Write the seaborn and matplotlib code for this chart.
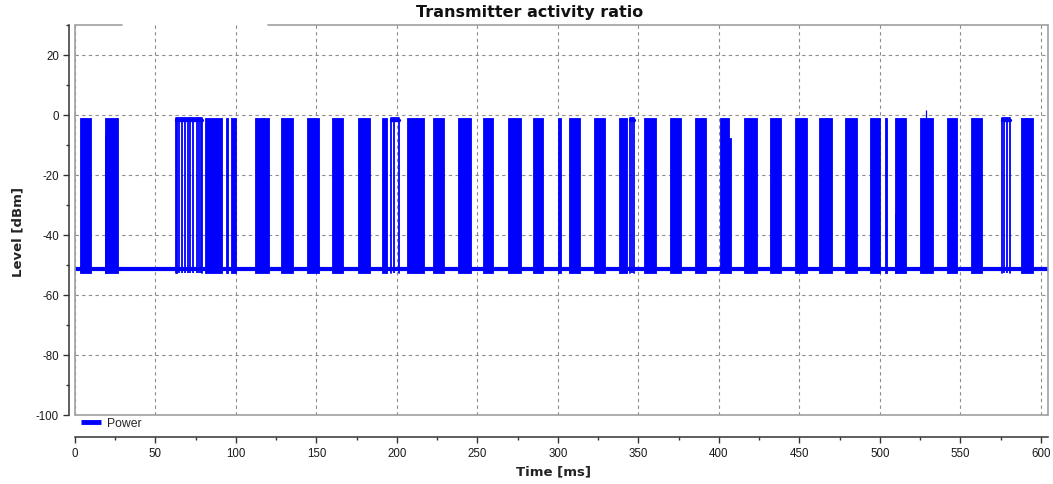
import matplotlib
matplotlib.use("Agg")
import matplotlib.pyplot as plt
import pandas as pd
import seaborn as sns
from matplotlib.lines import Line2D
from matplotlib.ticker import MultipleLocator

# ---------------- data ----------------
# solid transmit bursts (ms)
burst_start = [3.2, 18.5, 62.5, 80.8, 94.1, 96.8, 112.0, 128.2, 144.2, 159.5,
               175.6, 190.5, 206.5, 222.2, 237.9, 253.3, 269.2, 284.5, 299.8, 306.6,
               322.4, 338.1, 353.6, 369.4, 385.1, 400.6, 415.9, 431.6, 447.3, 462.3,
               478.2, 494.2, 503.0, 509.7, 525.2, 541.5, 556.6, 587.9]
burst_end = [9.9, 26.8, 63.6, 91.2, 95.3, 99.9, 120.6, 135.3, 151.6, 166.5,
             183.1, 193.8, 216.8, 229.2, 246.2, 259.8, 277.2, 290.9, 302.1, 313.9,
             329.0, 342.7, 360.7, 376.8, 392.3, 406.3, 423.4, 438.9, 454.6, 470.3,
             485.9, 500.0, 504.7, 516.5, 533.0, 547.9, 563.4, 595.1]
burst_top = -0.9
burst_floor = -52.6
# short lower-level parts of some bursts
low_start = [18.5, 406.3, 509.7]
low_end = [19.3, 407.8, 510.6]
low_top = [-6.5, -7.5, -33.0]
# stable-high segments with short drops to the floor
high_start = [62.5, 196.5, 344.5, 575.9]
high_end = [79.2, 201.3, 347.2, 580.7]
drop_time = [64.7, 66.4, 68.2, 70.1, 71.7, 73.6, 75.7, 77.3, 78.4,
             198.4, 345.8, 577.4, 579.0]
# single spike above the burst level
spike_time = [528.7]
spike_level = [1.8]
# noise floor
floor_time = [0.0, 604.5]
floor_level = [-51.2, -51.2]

x_ticks = list(range(0, 601, 50))
y_ticks = list(range(-100, 21, 20))

# ---------------- plotting ----------------
sns.set_theme(style="white")
plt.rcParams['font.family'] = ['Liberation Sans', 'DejaVu Sans']
plt.rcParams['axes.unicode_minus'] = False

BLUE = '#0000ff'
fig = plt.figure(figsize=(10.53, 4.84), dpi=100)
ax = fig.add_axes([75 / 1053, 69 / 484, 973 / 1053, 390 / 484])

floor_df = pd.DataFrame({'Time': floor_time, 'Level': floor_level})
sns.lineplot(data=floor_df, x='Time', y='Level', color=BLUE, lw=3.0, ax=ax,
             legend=False, zorder=3)

for s, e in zip(burst_start, burst_end):
    ax.fill_between([s, e], burst_floor, burst_top, color=BLUE, ec=BLUE, lw=0.6, zorder=3)
for s, e, t in zip(low_start, low_end, low_top):
    ax.fill_between([s, e], burst_floor, t, color=BLUE, ec=BLUE, lw=0.6, zorder=3)

for s, e in zip(high_start, high_end):
    ax.plot([s, s, e, e], [burst_floor, burst_top, burst_top, burst_floor],
            color=BLUE, lw=1.3, zorder=3)
    ax.plot([s, e], [burst_top - 0.8, burst_top - 0.8], color=BLUE, lw=2.4, zorder=3)
ax.vlines(drop_time, burst_floor, burst_top, color=BLUE, lw=1.3, zorder=3)
ax.vlines(spike_time, burst_top, spike_level, color=BLUE, lw=0.9, zorder=3)

ax.set_xlim(0, 604.5)
ax.set_ylim(-100, 30)
ax.set_xticks(x_ticks)
ax.set_yticks(y_ticks)
ax.xaxis.set_minor_locator(MultipleLocator(25))
ax.yaxis.set_minor_locator(MultipleLocator(10))
ax.set_xlabel('')
ax.set_ylabel('')

ax.set_axisbelow(True)
ax.grid(True, which='major', color='#8c8c8c', ls=(0, (3, 3)), lw=0.8)

for side in ['top', 'right']:
    ax.spines[side].set_visible(False)
ax.spines['left'].set_position(('outward', 4))
ax.spines['bottom'].set_position(('outward', 16))
for side in ['left', 'bottom']:
    ax.spines[side].set_color('#333333')
    ax.spines[side].set_linewidth(1.1)

ax.tick_params(axis='both', which='major', direction='out', length=4.5, width=1,
               color='#333333', labelsize=8.3, labelcolor='#1a1a1a', pad=3,
               bottom=True, left=True)
ax.tick_params(axis='both', which='minor', direction='out', length=2.5, width=1,
               color='#333333', bottom=True, left=True)

# plot frame (gray) with the gap in the top edge
fc = '#a0a0a0'
kw = dict(transform=ax.transAxes, color=fc, lw=1.2, clip_on=False, zorder=4)
ax.plot([0, 0], [0, 1], **kw)
ax.plot([1, 1], [0, 1], **kw)
ax.plot([0, 1], [0, 0], **kw)
ax.plot([0, 0.0483], [1, 1], **kw)
ax.plot([0.198, 1], [1, 1], **kw)

handle = Line2D([], [], color=BLUE, lw=3.5, solid_capstyle='butt')
ax.legend([handle], ['Power'], loc='center left', bbox_to_anchor=(0.0062, -0.0223),
          frameon=False, fontsize=8.8, handlelength=1.6, handletextpad=0.55,
          borderpad=0, borderaxespad=0)

fig.text(0.503, 0.975, 'Transmitter activity ratio', ha='center', va='center',
         fontsize=11.5, fontweight='bold', color='#111111', family='DejaVu Sans')
fig.text(553 / 1053, 1 - 472 / 484, 'Time [ms]', ha='center', va='center',
         fontsize=9.5, fontweight='bold', color='#222222', family='DejaVu Sans')
fig.text(18 / 1053, 1 - 232 / 484, 'Level [dBm]', ha='center', va='center',
         rotation=90, fontsize=9.5, fontweight='bold', color='#222222',
         family='DejaVu Sans')

fig.savefig('out.png', dpi=100)
